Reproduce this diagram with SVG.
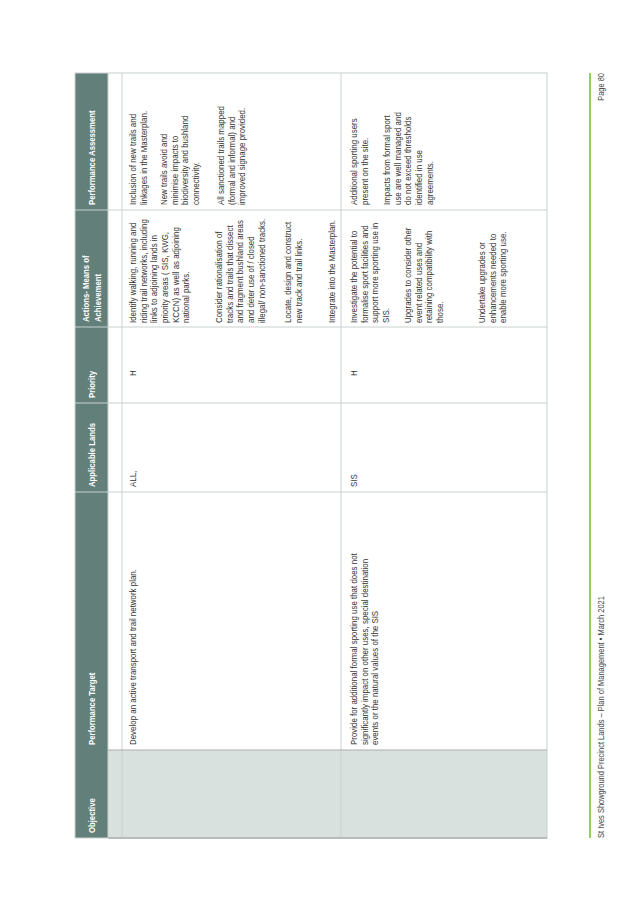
<svg xmlns="http://www.w3.org/2000/svg" width="638" height="900" viewBox="0 0 638 900">
<style>
text{font-family:"Liberation Sans",Arial,sans-serif;font-size:9px;fill:#333333}
.h{fill:#ffffff;font-weight:bold;font-size:8.8px}
.g{stroke:#c8d2d0;stroke-width:1;fill:none}
.f{fill:#444;font-size:8.5px}
</style>
<rect width="638" height="900" fill="#ffffff"/>
<g id="table" transform="translate(0,838) rotate(-90)">
  <rect id="header-band" x="0" y="75" width="765" height="33" fill="#627f7a"/>
  <rect id="objective-body" x="0" y="108" width="88" height="439" fill="#d9e1df"/>
  <g id="grid">
    <rect class="g" x="0" y="75" width="765" height="472"/>
    <line class="g" x1="0" y1="108" x2="765" y2="108"/>
    <line class="g" x1="0" y1="122" x2="765" y2="122"/>
    <line class="g" x1="0" y1="341" x2="765" y2="341"/>
    <line class="g" x1="346" y1="75" x2="346" y2="547"/>
    <line class="g" x1="435" y1="75" x2="435" y2="547"/>
    <line class="g" x1="511" y1="75" x2="511" y2="547"/>
    <line class="g" x1="628" y1="75" x2="628" y2="547"/>
    <line x1="0" y1="108" x2="0" y2="547" stroke="#a9b0ae" stroke-width="1.5"/>
    <line x1="88" y1="108" x2="88" y2="547" stroke="#a9b0ae" stroke-width="1.2"/>
  </g>
  <g id="headers">
    <g transform="translate(5,0) scale(0.88,1)"><text class="h" x="0" y="95">Objective</text></g>
    <g transform="translate(93,0) scale(0.88,1)"><text class="h" x="0" y="95">Performance Target</text></g>
    <g transform="translate(351,0) scale(0.88,1)"><text class="h" x="0" y="95">Applicable Lands</text></g>
    <g transform="translate(440,0) scale(0.88,1)"><text class="h" x="0" y="95">Priority</text></g>
    <g transform="translate(516,0) scale(0.88,1)"><text class="h" x="0" y="89">Actions- Means of</text><text class="h" x="0" y="101">Achievement</text></g>
    <g transform="translate(633,0) scale(0.88,1)"><text class="h" x="0" y="95">Performance Assessment</text></g>
  </g>
  <g id="row1">
    <g transform="translate(93,0) scale(0.88,1)"><text x="0" y="136">Develop an active transport and trail network plan.</text></g>
    <g transform="translate(351,0) scale(0.88,1)"><text x="0" y="136">ALL,</text></g>
    <g transform="translate(462,0) scale(0.88,1)"><text x="0" y="136">H</text></g>
    <g transform="translate(515,0) scale(0.88,1)">
      <text x="0" y="136">Identify walking, running and</text>
      <text x="0" y="146.7">riding trail networks, including</text>
      <text x="0" y="157.4">links to adjoining lands in</text>
      <text x="0" y="168.1">priority areas ( SIS, KWG,</text>
      <text x="0" y="178.8">KCCN) as well as adjoining</text>
      <text x="0" y="189.5">national parks.</text>
      <text x="0" y="222">Consider rationalisation of</text>
      <text x="0" y="232.7">tracks and trails that dissect</text>
      <text x="0" y="243.4">and fragment bushland areas</text>
      <text x="0" y="254.1">and deter use of / closed</text>
      <text x="0" y="264.8">illegal/ non-sanctioned tracks.</text>
      <text x="0" y="291">Locate, design and construct</text>
      <text x="0" y="301.7">new track and trail links.</text>
      <text x="0" y="335">Integrate into the Masterplan.</text>
    </g>
    <g transform="translate(633,0) scale(0.88,1)">
      <text x="0" y="136">Inclusion of new trails and</text>
      <text x="0" y="146.7">linkages in the Masterplan.</text>
      <text x="0" y="167">New trails avoid and</text>
      <text x="0" y="177.7">minimise impacts to</text>
      <text x="0" y="188.4">biodiversity and bushland</text>
      <text x="0" y="199.1">connectivity.</text>
      <text x="0" y="224">All sanctioned trails mapped</text>
      <text x="0" y="234.7">(formal and informal) and</text>
      <text x="0" y="245.4">improved signage provided.</text>
    </g>
  </g>
  <g id="row2">
    <g transform="translate(93,0) scale(0.88,1)">
      <text x="0" y="357">Provide for additional formal sporting use that does not</text>
      <text x="0" y="367.7">significantly impact on other uses, special destination</text>
      <text x="0" y="378.4">events or the natural values of the SIS</text>
    </g>
    <g transform="translate(351,0) scale(0.88,1)"><text x="0" y="357">SIS</text></g>
    <g transform="translate(462,0) scale(0.88,1)"><text x="0" y="357">H</text></g>
    <g transform="translate(515,0) scale(0.88,1)">
      <text x="0" y="357">Investigate the potential to</text>
      <text x="0" y="367.7">formalise sport facilities and</text>
      <text x="0" y="378.4">support more sporting use in</text>
      <text x="0" y="389.1">SIS.</text>
      <text x="0" y="411">Upgrades to consider other</text>
      <text x="0" y="421.7">event related uses and</text>
      <text x="0" y="432.4">retaining compatibility with</text>
      <text x="0" y="443.1">those.</text>
      <text x="0" y="485">Undertake upgrades or</text>
      <text x="0" y="495.7">enhancements needed to</text>
      <text x="0" y="506.4">enable more sporting use.</text>
    </g>
    <g transform="translate(633,0) scale(0.88,1)">
      <text x="0" y="357">Additional sporting users</text>
      <text x="0" y="367.7">present on the site.</text>
      <text x="0" y="390">Impacts from formal sport</text>
      <text x="0" y="400.7">use are well managed and</text>
      <text x="0" y="411.4">do not exceed thresholds</text>
      <text x="0" y="422.1">identified in use</text>
      <text x="0" y="432.8">agreements.</text>
    </g>
  </g>
  <g id="footer">
    <line x1="0" y1="590" x2="765" y2="590" stroke="#92cf5c" stroke-width="2"/>
    <g transform="scale(0.88,1)"><text class="f" x="0" y="604">St Ives Showground Precinct Lands – Plan of Management • March 2021</text></g>
    <g transform="translate(765,0) scale(0.88,1)"><text class="f" x="0" y="604" text-anchor="end">Page 80</text></g>
  </g>
</g>
</svg>
